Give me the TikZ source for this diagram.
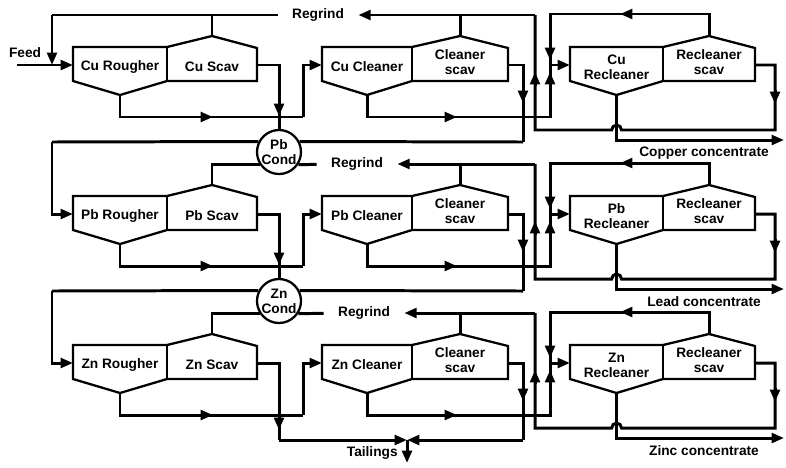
\documentclass[tikz,border=0pt]{standalone}
\usepackage{fontspec}
\setmainfont{Liberation Sans}
\usetikzlibrary{
    arrows.meta,
    calc
}

\tikzset{
    cell/.style={line width=1.3pt, line join=miter},
    flow/.style={line width=1.7pt},
    flowtip/.style={flow, -{Triangle[length=7pt,width=5.5pt]}},
    lbl/.style={font=\fontsize{7.8}{8.6}\selectfont\bfseries, align=center, inner sep=0pt},
    tank/.style={circle, draw, line width=1.3pt, minimum size=0.88cm, inner sep=0pt,
        font=\fontsize{7.8}{8.6}\selectfont\bfseries, align=center}
}

% arrow heads sitting on a flow line
\newcommand{\tipR}[1]{\draw[flowtip] ([xshift=-8pt]#1) -- (#1);}
\newcommand{\tipL}[1]{\draw[flowtip] ([xshift=8pt]#1) -- (#1);}
\newcommand{\tipU}[1]{\draw[flowtip] ([yshift=-8pt]#1) -- (#1);}
\newcommand{\tipD}[1]{\draw[flowtip] ([yshift=8pt]#1) -- (#1);}

% bank of two cells: name, left x, divider x, right x, left label, right label, right label y
\newcommand{\cellbank}[7]{%
    \draw[cell] (#2,47) -- (#3,47) -- ({(#3+#4)/2},36) -- (#4,48) -- (#4,81)
        -- (#3,81) -- ({(#2+#3)/2},95) -- (#2,81) -- cycle;
    \draw[cell] (#3,47) -- (#3,81);
    \coordinate (#1-in) at (#2,65);
    \coordinate (#1-tl) at (#4,65);
    \coordinate (#1-vb) at ({(#2+#3)/2},95);
    \coordinate (#1-pk) at ({(#3+#4)/2},36);
    \node[lbl] (#1-a) at ({(#2+#3)/2},67) {#5};
    \node[lbl] (#1-b) at ({(#3+#4)/2},#7) {#6};
}

\begin{document}
\begin{tikzpicture}[x=0.02cm, y=-0.02cm]
\useasboundingbox (0,0) rectangle (786,467);

% Conditioners between the circuits
\node[tank] (PbC) at (279,152) {Pb\\Cond};
\node[tank] (ZnC) at (279,301) {Zn\\Cond};

% Copper, lead and zinc circuits
\foreach \metal/\conc/\rgx/\off in {Cu/Copper/318/0, Pb/Lead/357/149, Zn/Zinc/364/298}{
  \begin{scope}[shift={(0,\off)}]
    \cellbank{\metal-ro}{73}{167}{257}{\metal\ Rougher}{\metal\ Scav}{67}
    \cellbank{\metal-cl}{322}{412}{508}{\metal\ Cleaner}{Cleaner\\scav}{62}
    \cellbank{\metal-rc}{570}{663}{755}{\metal\\Recleaner}{Recleaner\\scav}{62}

    \coordinate (\metal-j1) at (303,117);
    \coordinate (\metal-j2) at (550,117);
    \coordinate (\metal-rj) at (550,65);
    \coordinate (\metal-j3) at (523,142);
    \coordinate (\metal-j4) at (775,130);
    \coordinate (\metal-j5) at (535,130);
    \coordinate (\metal-j6) at (535,15);
    \coordinate (\metal-out) at (784,140);
    \node[lbl, inner xsep=8pt] (\metal-rg) at (\rgx,15) {Regrind};
    \node[lbl] (\metal-cc) at (704,153) {\conc\ concentrate};

    % rougher concentrate to cleaner
    \draw[flow] (\metal-ro-vb) |- (\metal-j1);
    \draw[flowtip] (\metal-j1) |- (\metal-cl-in);
    \tipR{213,117}

    % cleaner concentrate to recleaner
    \draw[flow] (\metal-cl-vb) |- (\metal-j2) -- (\metal-rj);
    \draw[flowtip] (\metal-rj) -- (\metal-rc-in);
    \tipR{457,117}
    \tipU{550,72}

    % cleaner scav tails
    \draw[flow] (\metal-cl-tl) -| (\metal-j3);
    \tipD{523,103}

    % scav concentrates
    \draw[flow] (\metal-cl-pk) -- (\metal-cl-pk |- \metal-j6);
    \draw[flow] (\metal-rc-pk) -- ++(0,-22) -| (\metal-rj);
    \tipL{620,14}
    \tipD{550,60}

    % recleaner scav tails back to regrind
    \draw[flow] (\metal-rc-tl) -| (\metal-j4) -- (621.5,130)
        arc[start angle=0, end angle=180, radius=2.8pt] -- (\metal-j5) -- (\metal-j6);
    \draw[flowtip] (\metal-j6) -- (\metal-rg);
    \tipD{775,104}
    \tipU{535,72}

    % final concentrate
    \draw[flowtip] (\metal-rc-vb) |- (\metal-out);
  \end{scope}
}

% Feed and copper regrind
\node[lbl] (feed) at (25,53) {Feed};
\coordinate (feedin) at (17,65);
\coordinate (rgc) at (52,15);
\draw[flowtip] (feedin) -- (Cu-ro-in);
\draw[flow] (Cu-rg) -- (rgc);
\draw[flowtip] (rgc) -- (rgc |- Cu-ro-in);
\draw[flow] (Cu-ro-pk) -- (Cu-ro-pk |- rgc);

% Copper tails to lead conditioner
\draw[flow] (Cu-ro-tl) -| (PbC.north);
\tipD{279,116}
\draw[flow] (Cu-j3) -- (PbC.27);

% Lead conditioner
\coordinate (PbF) at (52,142);
\draw[flow] (PbC.153) -- (PbF);
\draw[flowtip] (PbF) |- (Pb-ro-in);
\draw[flow] (Pb-ro-pk) |- (PbC.213);
\draw[flow] (Pb-rg) -- (PbC.-33);

% Lead tails to zinc conditioner
\draw[flow] (Pb-ro-tl) -| (ZnC.north);
\tipD{279,265}
\draw[flow] (Pb-j3) -- (ZnC.27);

% Zinc conditioner
\coordinate (ZnF) at (52,291);
\draw[flow] (ZnC.153) -- (ZnF);
\draw[flowtip] (ZnF) |- (Zn-ro-in);
\draw[flow] (Zn-ro-pk) |- (ZnC.213);
\draw[flow] (Zn-rg) -- (ZnC.-33);

% Tailings
\coordinate (tj) at (407,440);
\coordinate (zt) at (279,440);
\coordinate (tout) at (407,463);
\draw[flow] (Zn-ro-tl) -| (zt);
\tipD{279,430}
\draw[flowtip] (zt) -- (tj);
\draw[flowtip] (Zn-j3) -- (tj);
\draw[flowtip] (tj) -- (tout);
\node[lbl, anchor=east] (tails) at (398,453) {Tailings};

\end{tikzpicture}
\end{document}
